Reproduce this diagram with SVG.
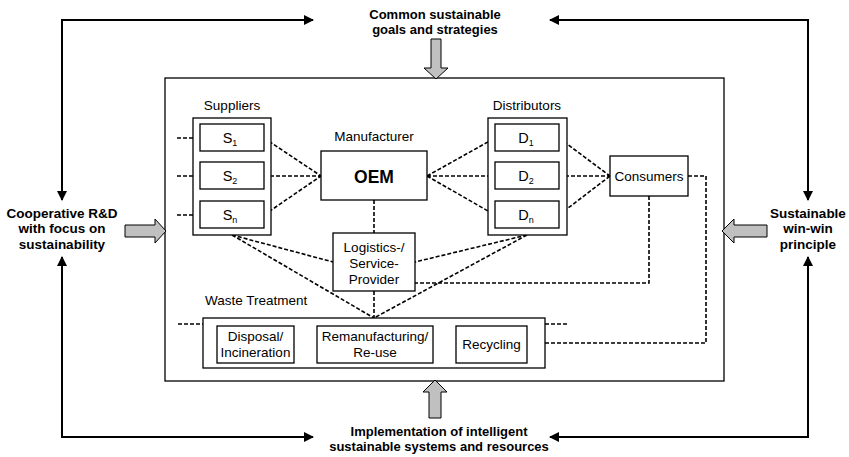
<svg xmlns="http://www.w3.org/2000/svg" width="849" height="457" viewBox="0 0 849 457">
<style>
text{font-family:"Liberation Sans",Arial,sans-serif;fill:#000}
.b{font-weight:bold;font-size:13.5px;text-anchor:middle}
.bt{font-weight:bold;font-size:13px;text-anchor:middle}
.l{font-size:13.5px;text-anchor:middle}
.sd{font-size:14.5px;text-anchor:middle}
.box{fill:#fff;stroke:#000;stroke-width:1.3}
.d{fill:none;stroke:#000;stroke-width:1.6;stroke-dasharray:4 2}
.s{fill:none;stroke:#000;stroke-width:2}
.g{fill:#c0c0c0;stroke:#000;stroke-width:1}
</style>
<defs>
<marker id="ah" viewBox="0 0 10 10" refX="9" refY="5" markerWidth="5" markerHeight="5" orient="auto-start-reverse" markerUnits="strokeWidth">
<path d="M0,0 L10,5 L0,10 Z" fill="#000"/>
</marker>
</defs>
<rect width="849" height="457" fill="#fff"/>

<g id="frame"><rect x="165" y="78" width="559" height="303" fill="#fff" stroke="#000" stroke-width="1.3"/></g>

<g id="connectors">
<path class="s" d="M313,20 H62 V200" marker-start="url(#ah)" marker-end="url(#ah)"/>
<path class="s" d="M550,20 H808 V200" marker-start="url(#ah)" marker-end="url(#ah)"/>
<path class="s" d="M62,257 V437 H313" marker-start="url(#ah)" marker-end="url(#ah)"/>
<path class="s" d="M808,257 V437 H550" marker-start="url(#ah)" marker-end="url(#ah)"/>
<path class="g" d="M431,39 H441 V68 H448 L436,79 L424,68 H431 Z"/>
<path class="g" d="M429,418 H441 V392 H447 L435,380 L423,392 H429 Z"/>
<path class="g" d="M125,225 H155 V219 L166,231 L155,243 V237 H125 Z"/>
<path class="g" d="M767,225 H734 V219 L722,231 L734,243 V237 H767 Z"/>
<path class="d" d="M177,138 H200 M177,176 H200 M177,215 H200"/>
<path class="d" d="M264,138 L321,176 M264,176 H321 M264,215 L321,176"/>
<path class="d" d="M427,176 L495,138 M427,176 H495 M427,176 L495,215"/>
<path class="d" d="M559,138 L610,176 M559,176 H610 M559,215 L610,176"/>
<path class="d" d="M374,200 V233"/>
<path class="d" d="M374,291 V318"/>
<path class="d" d="M232,235 L333,262 M232,235 L374,318 M527,235 L415,262 M527,235 L374,318"/>
<path class="d" d="M688,176 H706 V343 H545"/>
<path class="d" d="M649,196 V283 H415"/>
<path class="d" d="M178,324 H203 M545,324 H568"/>
<path class="d" d="M294,344 H317 M433,344 H456"/>
</g>

<g id="labels">
<text class="bt" x="435" y="19">Common sustainable</text>
<text class="bt" x="435" y="34">goals and strategies</text>
<text class="b" x="62" y="218">Cooperative R&amp;D</text>
<text class="b" x="62" y="233">with focus on</text>
<text class="b" x="62" y="249">sustainability</text>
<text class="b" x="808" y="218">Sustainable</text>
<text class="b" x="808" y="233">win-win</text>
<text class="b" x="808" y="249">principle</text>
<text class="bt" x="439" y="436">Implementation of intelligent</text>
<text class="bt" x="439" y="451">sustainable systems and resources</text>
</g>

<g id="suppliers">
<text class="l" x="232" y="110">Suppliers</text>
<rect class="box" x="193" y="118" width="78" height="117"/>
</g>
<g id="s1"><rect class="box" x="200" y="124" width="64" height="27"/><text class="sd" x="230" y="143">S<tspan font-size="9" dy="3">1</tspan></text></g>
<g id="s2"><rect class="box" x="200" y="162" width="64" height="27"/><text class="sd" x="230" y="181">S<tspan font-size="9" dy="3">2</tspan></text></g>
<g id="sn"><rect class="box" x="200" y="201" width="64" height="27"/><text class="sd" x="230" y="220">S<tspan font-size="9" dy="3">n</tspan></text></g>

<g id="oem">
<text class="l" x="374" y="141">Manufacturer</text>
<rect class="box" x="321" y="151" width="106" height="49"/>
<text x="374" y="183" font-size="17.5" font-weight="bold" text-anchor="middle">OEM</text>
</g>

<g id="distributors">
<text class="l" x="527" y="110">Distributors</text>
<rect class="box" x="488" y="118" width="79" height="117"/>
</g>
<g id="d1"><rect class="box" x="495" y="124" width="64" height="27"/><text class="sd" x="526" y="143">D<tspan font-size="9" dy="3">1</tspan></text></g>
<g id="d2"><rect class="box" x="495" y="162" width="64" height="27"/><text class="sd" x="526" y="181">D<tspan font-size="9" dy="3">2</tspan></text></g>
<g id="dn"><rect class="box" x="495" y="201" width="64" height="27"/><text class="sd" x="526" y="220">D<tspan font-size="9" dy="3">n</tspan></text></g>

<g id="consumers"><rect class="box" x="610" y="156" width="78" height="40"/><text class="l" x="649" y="181">Consumers</text></g>

<g id="logistics">
<rect class="box" x="333" y="233" width="82" height="58"/>
<text class="l" x="374" y="252">Logistics-/</text>
<text class="l" x="374" y="268">Service-</text>
<text class="l" x="374" y="284">Provider</text>
</g>

<g id="waste">
<text x="205" y="305" font-size="13.5">Waste Treatment</text>
<rect class="box" x="203" y="318" width="342" height="50"/>
</g>
<g id="disposal"><rect class="box" x="217" y="326" width="77" height="37"/><text class="l" x="255.5" y="341">Disposal/</text><text class="l" x="255.5" y="357">Incineration</text></g>
<g id="reman"><rect class="box" x="317" y="326" width="116" height="37"/><text class="l" x="375" y="341">Remanufacturing/</text><text class="l" x="375" y="357">Re-use</text></g>
<g id="recycling"><rect class="box" x="456" y="326" width="71" height="37"/><text class="l" x="491.5" y="349">Recycling</text></g>
</svg>
